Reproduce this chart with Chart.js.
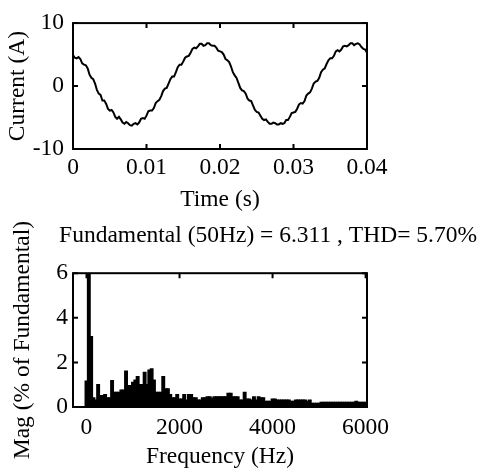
<!DOCTYPE html>
<html>
<head>
<meta charset="utf-8">
<script src="https://cdn.jsdelivr.net/npm/chart.js@4.4.1/dist/chart.umd.min.js"></script>
<style>
    body { margin: 0; background: #fff; }
    canvas { position: absolute; left: 0; }
    #currentChart { top: 0; }
    #fftChart { top: 218px; }
</style>
</head>
<body>
<canvas id="currentChart" width="479" height="218"></canvas>
<canvas id="fftChart" width="479" height="256"></canvas>
<script>
// time signal (upper plot)
const timeS = [
    0, 0.00025, 0.0005, 0.00075, 0.001, 0.00125, 0.0015, 0.00175,
    0.002, 0.00225, 0.0025, 0.00275, 0.003, 0.00325, 0.0035, 0.00375,
    0.004, 0.00425, 0.0045, 0.00475, 0.005, 0.00525, 0.0055, 0.00575,
    0.006, 0.00625, 0.0065, 0.00675, 0.007, 0.00725, 0.0075, 0.00775,
    0.008, 0.00825, 0.0085, 0.00875, 0.009, 0.00925, 0.0095, 0.00975,
    0.01, 0.01025, 0.0105, 0.01075, 0.011, 0.01125, 0.0115, 0.01175,
    0.012, 0.01225, 0.0125, 0.01275, 0.013, 0.01325, 0.0135, 0.01375,
    0.014, 0.01425, 0.0145, 0.01475, 0.015, 0.01525, 0.0155, 0.01575,
    0.016, 0.01625, 0.0165, 0.01675, 0.017, 0.01725, 0.0175, 0.01775,
    0.018, 0.01825, 0.0185, 0.01875, 0.019, 0.01925, 0.0195, 0.01975,
    0.02, 0.02025, 0.0205, 0.02075, 0.021, 0.02125, 0.0215, 0.02175,
    0.022, 0.02225, 0.0225, 0.02275, 0.023, 0.02325, 0.0235, 0.02375,
    0.024, 0.02425, 0.0245, 0.02475, 0.025, 0.02525, 0.0255, 0.02575,
    0.026, 0.02625, 0.0265, 0.02675, 0.027, 0.02725, 0.0275, 0.02775,
    0.028, 0.02825, 0.0285, 0.02875, 0.029, 0.02925, 0.0295, 0.02975,
    0.03, 0.03025, 0.0305, 0.03075, 0.031, 0.03125, 0.0315, 0.03175,
    0.032, 0.03225, 0.0325, 0.03275, 0.033, 0.03325, 0.0335, 0.03375,
    0.034, 0.03425, 0.0345, 0.03475, 0.035, 0.03525, 0.0355, 0.03575,
    0.036, 0.03625, 0.0365, 0.03675, 0.037, 0.03725, 0.0375, 0.03775,
    0.038, 0.03825, 0.0385, 0.03875, 0.039, 0.03925, 0.0395, 0.03975,
    0.04
];
const currentA = [
    4.9, 4.5, 4.4, 4.6, 4.3, 3.6, 3.4, 3.3,
    2.8, 1.8, 1.3, 1.1, 0.4, -0.6, -1.2, -1.4,
    -2.3, -2.3, -2.8, -3.6, -3.9, -3.8, -4.2, -4.9,
    -5.2, -4.9, -5.3, -5.8, -6.0, -5.7, -5.9, -6.2,
    -6.3, -6.0, -5.9, -6.1, -5.8, -5.2, -5.1, -5.2,
    -4.7, -4.0, -3.9, -3.9, -3.5, -2.7, -2.4, -2.2,
    -1.6, -0.8, -0.4, -0.3, 0.4, 1.1, 1.5, 1.5,
    2.2, 3.0, 3.4, 3.4, 3.9, 4.5, 4.7, 4.8,
    5.3, 5.9, 6.1, 6.0, 6.3, 6.7, 6.7, 6.4,
    6.5, 6.8, 6.8, 6.5, 6.4, 6.4, 6.1, 5.6,
    5.5, 5.4, 5.0, 4.3, 4.1, 3.8, 3.1, 2.2,
    1.7, 1.3, 0.5, -0.3, -0.7, -0.8, -1.2, -2.0,
    -2.3, -2.4, -3.1, -3.8, -4.1, -4.2, -4.7, -5.2,
    -5.4, -5.3, -5.7, -6.0, -6.0, -5.8, -5.9, -6.1,
    -6.1, -5.9, -6.0, -5.9, -5.4, -5.4, -4.9, -4.3,
    -4.2, -4.1, -3.6, -2.9, -2.7, -2.8, -2.4, -1.5,
    -1.2, -1.0, -0.4, 0.4, 0.7, 0.8, 1.3, 2.2,
    2.6, 2.8, 3.5, 4.1, 4.4, 4.4, 4.8, 5.5,
    5.7, 5.5, 5.8, 6.3, 6.4, 6.3, 6.5, 6.8,
    6.8, 6.5, 6.7, 6.8, 6.6, 6.2, 5.9, 5.8,
    5.3
];
const timeTicks = [0, 0.01, 0.02, 0.03, 0.04];
const currentTicks = [-10, 0, 10];

// spectrum (lower plot), % of fundamental, 50 Hz bins
const freqHz = [
    0, 50, 100, 150, 200, 250, 300, 350, 400, 450,
    500, 550, 600, 650, 700, 750, 800, 850, 900, 950,
    1000, 1050, 1100, 1150, 1200, 1250, 1300, 1350, 1400, 1450,
    1500, 1550, 1600, 1650, 1700, 1750, 1800, 1850, 1900, 1950,
    2000, 2050, 2100, 2150, 2200, 2250, 2300, 2350, 2400, 2450,
    2500, 2550, 2600, 2650, 2700, 2750, 2800, 2850, 2900, 2950,
    3000, 3050, 3100, 3150, 3200, 3250, 3300, 3350, 3400, 3450,
    3500, 3550, 3600, 3650, 3700, 3750, 3800, 3850, 3900, 3950,
    4000, 4050, 4100, 4150, 4200, 4250, 4300, 4350, 4400, 4450,
    4500, 4550, 4600, 4650, 4700, 4750, 4800, 4850, 4900, 4950,
    5000, 5050, 5100, 5150, 5200, 5250, 5300, 5350, 5400, 5450,
    5500, 5550, 5600, 5650, 5700, 5750, 5800, 5850, 5900, 5950, 6000
];
const magPct = [
    1.15, 100, 3.15, 0.4, 0.3, 1.0, 0.5, 0.5, 0.55, 0.4,
    0.4, 1.18, 0.65, 0.65, 0.65, 0.75, 0.75, 1.6, 0.95, 0.95,
    1.1, 1.2, 1.35, 1.0, 1.0, 1.55, 1.0, 1.65, 1.7, 1.2,
    0.65, 0.65, 0.65, 1.35, 0.8, 0.8, 0.55, 0.4, 0.4, 0.55,
    0.35, 0.35, 0.55, 0.3, 0.55, 0.55, 0.4, 0.4, 0.3, 0.3,
    0.4, 0.4, 0.45, 0.45, 0.38, 0.45, 0.45, 0.45, 0.45, 0.45,
    0.45, 0.6, 0.6, 0.45, 0.45, 0.45, 0.3, 0.3, 0.65, 0.35,
    0.35, 0.3, 0.45, 0.3, 0.45, 0.4, 0.4, 0.25, 0.25, 0.25,
    0.35, 0.35, 0.3, 0.3, 0.3, 0.3, 0.3, 0.3, 0.25, 0.25,
    0.3, 0.3, 0.3, 0.3, 0.3, 0.25, 0.3, 0.15, 0.15, 0.15,
    0.15, 0.2, 0.2, 0.2, 0.2, 0.2, 0.2, 0.2, 0.2, 0.2,
    0.2, 0.2, 0.2, 0.2, 0.2, 0.2, 0.25, 0.2, 0.2, 0.2, 0.2
];
const freqTicks = [0, 2000, 4000, 6000];
const magTicks = [0, 2, 4, 6];

const fftTitle = 'Fundamental (50Hz) = 6.311 , THD= 5.70%';

Chart.defaults.font.family = "'Liberation Serif', 'Times New Roman', serif";
Chart.defaults.font.size = 23.5;
Chart.defaults.color = '#000';

// box around the axes with inward tick marks, matlab style
const boxTicks = {
    id: 'boxTicks',
    afterDatasetsDraw(chart) {
        const { ctx, chartArea: a, scales: { x, y } } = chart;
        const len = 5;
        ctx.save();
        ctx.strokeStyle = '#000';
        ctx.lineWidth = 2;
        ctx.strokeRect(a.left, a.top, a.right - a.left, a.bottom - a.top);
        ctx.beginPath();
        x.ticks.forEach(t => {
            const px = x.getPixelForValue(t.value);
            ctx.moveTo(px, a.bottom); ctx.lineTo(px, a.bottom - len);
            ctx.moveTo(px, a.top); ctx.lineTo(px, a.top + len);
        });
        y.ticks.forEach(t => {
            const py = y.getPixelForValue(t.value);
            ctx.moveTo(a.left, py); ctx.lineTo(a.left + len, py);
            ctx.moveTo(a.right, py); ctx.lineTo(a.right - len, py);
        });
        ctx.stroke();
        ctx.restore();
    }
};

function xAxis(min, max, tickValues, title, height, labelPad, titlePad) {
    return {
        type: 'linear', min, max, offset: false,
        grid: { display: false, drawTicks: false },
        border: { display: false },
        afterBuildTicks: s => { s.ticks = tickValues.map(v => ({ value: v })); },
        afterFit: s => { s.height = height; },
        ticks: { padding: labelPad, maxRotation: 0, callback: v => String(v) },
        title: { display: true, text: title, padding: { top: 0, bottom: titlePad } }
    };
}

function yAxis(min, max, tickValues, title, labelPad, titlePad) {
    return {
        type: 'linear', min, max,
        grid: { display: false, drawTicks: false },
        border: { display: false },
        afterBuildTicks: s => { s.ticks = tickValues.map(v => ({ value: v })); },
        afterFit: s => { s.width = 73; },
        ticks: { padding: labelPad, callback: v => String(v) },
        title: { display: true, text: title, padding: { top: titlePad, bottom: 0 } }
    };
}

// empty right-hand axis keeps the plot box at the same width as the reference
function spacer(width) {
    return {
        type: 'linear', position: 'right', display: true,
        grid: { display: false, drawTicks: false },
        border: { display: false },
        ticks: { display: false },
        afterFit: s => { s.width = width; }
    };
}

new Chart(document.getElementById('currentChart'), {
    type: 'line',
    data: {
        datasets: [{
            data: timeS.map((t, i) => ({ x: t, y: currentA[i] })),
            borderColor: '#000',
            borderWidth: 2,
            pointRadius: 0,
            tension: 0
        }]
    },
    options: {
        responsive: false,
        animation: false,
        layout: { padding: { top: 16 } },
        plugins: { legend: { display: false }, tooltip: { enabled: false } },
        scales: {
            x: xAxis(0, 0.04, timeTicks, 'Time (s)', 69, 5, 4),
            y: yAxis(-10, 10, currentTicks, 'Current (A)', 9, 4),
            pad: spacer(112)
        }
    },
    plugins: [boxTicks]
});

new Chart(document.getElementById('fftChart'), {
    type: 'bar',
    data: {
        datasets: [{
            data: freqHz.map((f, i) => ({ x: f, y: magPct[i] })),
            backgroundColor: '#000',
            borderWidth: 0,
            inflateAmount: 0.8,
            barPercentage: 1,
            categoryPercentage: 1
        }]
    },
    options: {
        responsive: false,
        animation: false,
        layout: { padding: { right: 2 } },
        plugins: {
            legend: { display: false },
            tooltip: { enabled: false },
            title: {
                display: true,
                text: fftTitle,
                align: 'end',
                font: { size: 23.5, weight: 'normal' },
                padding: { top: 4, bottom: 23 }
            }
        },
        scales: {
            x: xAxis(-290, 6030, freqTicks, 'Frequency (Hz)', 67, 7, 3),
            y: yAxis(0, 6, magTicks, 'Mag (% of Fundamental)', 5, 9),
            pad: spacer(110)
        }
    },
    plugins: [boxTicks]
});
</script>
</body>
</html>
